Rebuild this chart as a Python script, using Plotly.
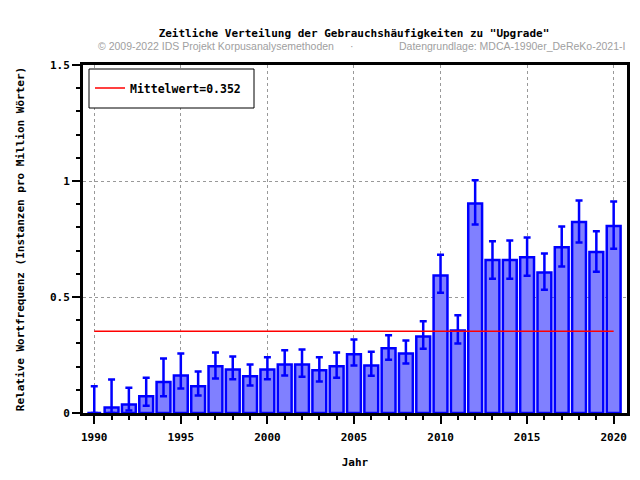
import plotly.graph_objects as go

# Relative frequency per year (instances per million words) for "Upgrade"
years = list(range(1990, 2021))
freq = [0.0, 0.024, 0.037, 0.072, 0.134, 0.162, 0.115, 0.201, 0.188, 0.158,
        0.188, 0.209, 0.209, 0.184, 0.201, 0.253, 0.205, 0.279, 0.257, 0.330,
        0.593, 0.356, 0.903, 0.659, 0.659, 0.671, 0.606, 0.714, 0.823, 0.694,
        0.806]
# confidence interval bounds
ci_upper = [0.115, 0.144, 0.109, 0.152, 0.235, 0.257, 0.179, 0.261, 0.244, 0.209,
            0.240, 0.270, 0.274, 0.240, 0.261, 0.317, 0.264, 0.335, 0.312, 0.395,
            0.682, 0.421, 1.003, 0.740, 0.744, 0.757, 0.688, 0.804, 0.916, 0.783,
            0.912]
ci_lower = [0.0, 0.0, 0.011, 0.031, 0.072, 0.106, 0.075, 0.149, 0.145, 0.118,
            0.145, 0.162, 0.156, 0.136, 0.152, 0.205, 0.161, 0.230, 0.213, 0.277,
            0.518, 0.300, 0.812, 0.579, 0.579, 0.592, 0.531, 0.631, 0.735, 0.609,
            0.708]
mean_value = 0.352

MONO = "DejaVu Sans Mono"
BLUE = "#0000ff"

# page body has an 8px margin, so the figure is drawn a little smaller
W, H = 624, 464
OFF = 8

fig = go.Figure()

# mean line sits behind the bars
fig.add_trace(go.Scatter(
    x=[years[0], years[-1]],
    y=[mean_value, mean_value],
    mode="lines",
    name=f"Mittelwert={mean_value}",
    line=dict(color="#ff0000", width=1.5),
))

fig.add_trace(go.Bar(
    x=years,
    y=freq,
    width=0.8,
    marker=dict(color="#8080ff", line=dict(color=BLUE, width=2.5)),
    error_y=dict(
        type="data",
        symmetric=False,
        array=[u - v for u, v in zip(ci_upper, freq)],
        arrayminus=[v - l for v, l in zip(freq, ci_lower)],
        color=BLUE,
        thickness=2.5,
        width=3.5,
    ),
    showlegend=False,
))

fig.update_layout(
    width=W,
    height=H,
    paper_bgcolor="white",
    plot_bgcolor="white",
    margin=dict(l=83 - OFF, r=W - (627 - OFF), t=65 - OFF, b=H - (413 - OFF)),
    font=dict(family=MONO, size=11, color="black", weight="bold"),
    title=dict(
        text='Zeitliche Verteilung der Gebrauchshäufigkeiten zu "Upgrade"',
        x=(354 - OFF) / W, xanchor="center", y=1 - (33 - OFF) / H, yanchor="middle",
        font=dict(family=MONO, size=11, color="black", weight="bold"),
    ),
    legend=dict(
        x=(90 - 83) / 544, y=(413 - 88) / 348, xanchor="left", yanchor="middle",
        bgcolor="rgba(0,0,0,0)", borderwidth=0,
        font=dict(family=MONO, size=11.5, weight="bold"),
    ),
    bargap=0.2,
)

# legend frame
fig.add_shape(type="rect", xref="paper", yref="paper",
              x0=(89 - 83) / 544, x1=(254 - 83) / 544,
              y0=(413 - 108) / 348, y1=(413 - 69) / 348,
              line=dict(color="black", width=1), fillcolor="white", layer="above")

fig.update_xaxes(
    range=[1989.35, 2020.77],
    automargin=False,
    tickmode="linear", tick0=1990, dtick=5,
    ticks="outside", ticklen=8, tickwidth=2, tickcolor="black",
    ticklabelstandoff=4,
    minor=dict(dtick=1, ticks="outside", ticklen=4, tickwidth=2, tickcolor="black", showgrid=False),
    showline=True, linecolor="black", linewidth=3, mirror=True,
    showgrid=True, gridcolor="#999999", griddash="dot", gridwidth=1,
    zeroline=False,
    title=dict(text="Jahr", standoff=16, font=dict(family=MONO, size=11, weight="bold")),
)

fig.update_yaxes(
    range=[0, 1.5],
    automargin=False,
    tickmode="linear", tick0=0, dtick=0.5,
    ticks="outside", ticklen=8, tickwidth=2, tickcolor="black",
    minor=dict(dtick=0.1, ticks="outside", ticklen=4, tickwidth=2, tickcolor="black", showgrid=False),
    showline=True, linecolor="black", linewidth=3, mirror=True,
    showgrid=True, gridcolor="#999999", griddash="dot", gridwidth=1,
    zeroline=False,
    title=dict(text="Relative Wortfrequenz (Instanzen pro Million Wörter)", standoff=24,
               font=dict(family=MONO, size=11, weight="bold")),
)

# copyright / data source line under the title
sub_font = dict(family="Liberation Sans", size=10.5, color="#a0a0a0", weight="normal")
sub_y = (413 - 46) / 348
fig.add_annotation(text="© 2009-2022 IDS Projekt Korpusanalysemethoden",
                   xref="paper", yref="paper", x=(96 - 83) / 544, y=sub_y,
                   xanchor="left", yanchor="middle", showarrow=False, font=sub_font)
fig.add_annotation(text="·",
                   xref="paper", yref="paper", x=(352 - 83) / 544, y=sub_y,
                   xanchor="center", yanchor="middle", showarrow=False, font=sub_font)
fig.add_annotation(text="Datengrundlage: MDCA-1990er_DeReKo-2021-I",
                   xref="paper", yref="paper", x=1.0, y=sub_y,
                   xanchor="right", yanchor="middle", showarrow=False, font=sub_font)

fig.write_html("out.html")
